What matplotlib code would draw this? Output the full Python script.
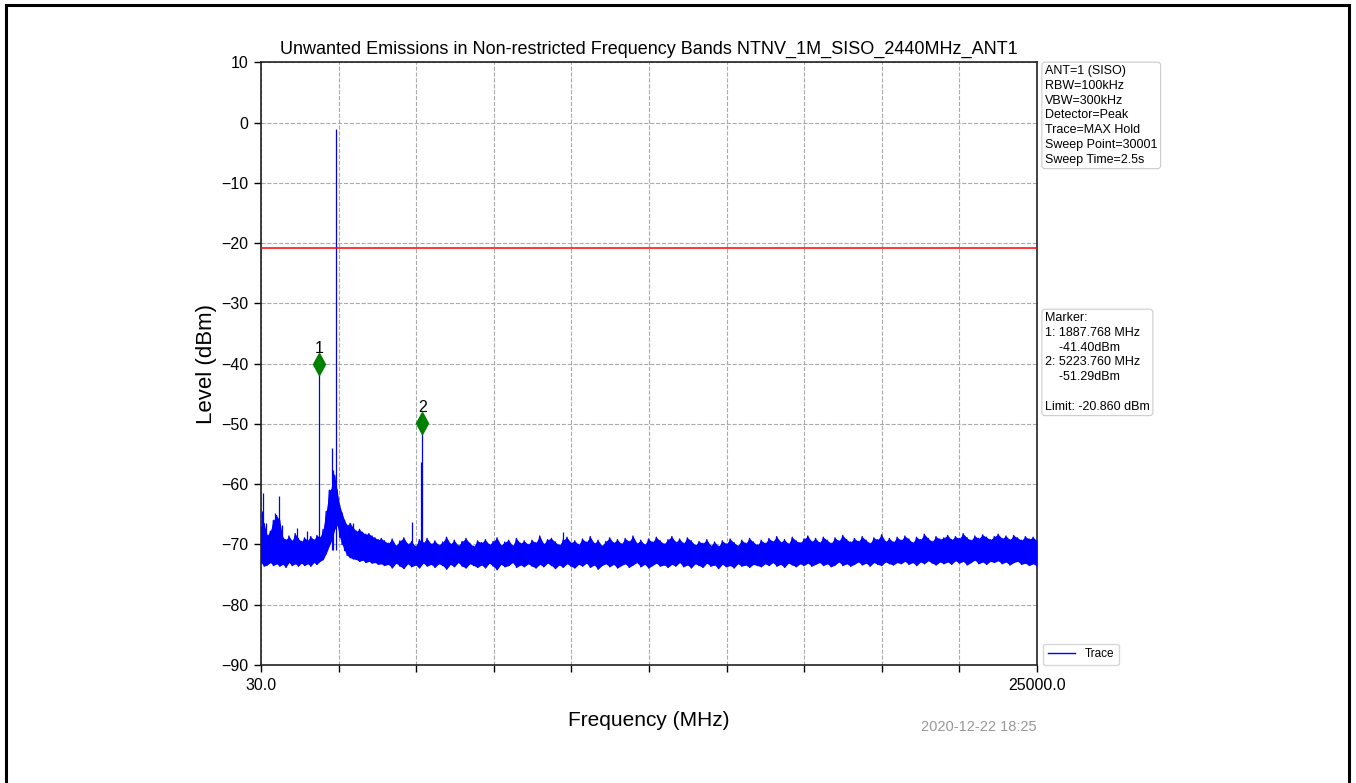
import numpy as np
import matplotlib
matplotlib.use("Agg")
import matplotlib.pyplot as plt
from matplotlib.patches import Rectangle

plt.rcParams['font.family'] = ['Liberation Sans', 'DejaVu Sans']

# trace envelope (MHz, dBm): low edge and high edge of the noise band
near_freq = [30, 130, 230, 330, 430, 530, 630, 730, 830, 930,
             1030, 1130, 1230, 1330, 1430, 1530, 1630, 1730, 1830, 1930,
             2030, 2130, 2230, 2330, 2400, 2480, 2560, 2640, 2720, 2800,
             2900, 3000, 3100, 3200, 3300, 3400, 3500, 3600, 3700, 3800,
             3900, 4000]
near_hi = [-67.0, -66.5, -68.5, -67.8, -66.0, -65.2, -66.0, -68.8, -69.2, -68.6,
           -69.4, -68.2, -69.0, -69.5, -68.9, -69.3, -68.7, -69.2, -68.5, -68.8,
           -67.5, -64.5, -61.0, -60.5, -58.5, -61.0, -63.5, -64.8, -66.0, -66.8,
           -66.5, -67.2, -67.8, -67.5, -68.0, -68.3, -68.2, -68.6, -68.9, -69.2,
           -69.0, -69.4]
near_lo = [-73.0, -73.6, -73.4, -73.0, -73.5, -73.2, -73.6, -73.3, -73.8, -73.0,
           -73.5, -73.2, -73.6, -73.1, -73.5, -73.2, -73.6, -73.0, -73.3, -72.8,
           -72.5, -71.5, -70.2, -69.0, -67.5, -66.8, -68.8, -70.0, -71.0, -71.8,
           -72.2, -72.4, -72.5, -72.8, -72.6, -73.0, -72.8, -73.1, -73.0, -73.3,
           -73.2, -73.5]

# flat part of the floor, 4125 .. 25000 MHz in 125 MHz steps
floor_freq = list(range(4125, 25001, 125))
floor_hi = [-69.8, -69.1, -70.2, -69.4, -68.9, -69.9, -69.5, -70.3, -69.2, -69.7, -69.0, -69.9,
            -69.4, -70.1, -69.6, -68.8, -69.9, -69.3, -70.2, -69.5, -69.0, -69.8, -70.3, -69.4,
            -69.7, -69.2, -70.0, -69.5, -68.9, -70.1, -69.6, -69.3, -70.2, -69.0, -69.8, -69.4,
            -70.0, -69.3, -69.7, -68.6, -69.9, -69.2, -69.0, -69.6, -70.1, -69.3, -68.8, -69.7,
            -69.4, -70.0, -69.1, -69.6, -68.7, -69.8, -69.3, -70.2, -69.5, -68.9, -69.7, -69.2,
            -69.9, -69.0, -69.5, -68.6, -69.8, -69.3, -70.0, -69.1, -69.6, -68.8, -69.4, -69.9,
            -69.2, -68.7, -69.6, -69.1, -69.8, -68.9, -69.4, -70.1, -69.5, -69.8, -69.2, -70.2,
            -69.6, -70.3, -69.4, -69.9, -69.1, -69.7, -70.2, -69.3, -69.8, -69.0, -69.6, -70.1,
            -69.3, -69.8, -69.0, -69.5, -68.7, -69.6, -69.2, -69.9, -68.8, -69.4, -69.7, -69.1,
            -68.6, -69.5, -69.0, -69.7, -68.8, -69.3, -69.8, -68.9, -69.4, -68.5, -69.2, -69.6,
            -69.0, -69.5, -68.7, -69.3, -69.8, -68.9, -69.2, -68.4, -69.5, -69.0, -69.6, -68.8,
            -69.3, -68.6, -69.1, -69.7, -68.8, -69.2, -68.3, -69.0, -69.5, -68.7, -69.1, -68.9,
            -68.5, -69.2, -68.7, -69.0, -68.2, -68.9, -69.3, -68.6, -69.0, -68.4, -68.8, -69.2,
            -68.7, -68.3, -69.0, -68.6, -69.2, -68.5, -68.9, -69.3, -68.7, -69.1, -68.8, -69.4]
floor_lo = [-73.3, -73.9, -73.1, -73.6, -74.0, -73.2, -73.7, -73.4, -73.9, -73.1, -73.6, -73.3,
            -73.8, -73.2, -73.5, -74.1, -73.3, -73.7, -73.0, -73.6, -73.9, -73.2, -73.5, -73.8,
            -73.4, -73.9, -73.1, -73.6, -74.2, -73.3, -73.7, -73.5, -73.0, -73.8, -73.4, -73.7,
            -73.2, -73.6, -73.9, -73.3, -73.7, -73.1, -73.5, -74.0, -73.4, -73.8, -73.2, -73.6,
            -73.9, -73.3, -73.6, -73.1, -73.8, -73.4, -74.1, -73.5, -73.2, -73.7, -73.3, -73.9,
            -73.5, -73.2, -73.8, -73.4, -73.0, -73.7, -73.3, -73.9, -73.5, -73.1, -73.6, -73.4,
            -73.8, -73.3, -73.6, -73.0, -73.7, -73.4, -73.9, -73.2, -73.5, -73.8, -73.1, -73.6,
            -73.4, -74.0, -73.3, -73.7, -73.5, -73.9, -73.2, -73.6, -73.4, -73.8, -73.3, -73.5,
            -73.7, -73.2, -73.5, -73.0, -73.6, -73.3, -73.8, -73.1, -73.4, -73.7, -73.2, -73.5,
            -73.1, -73.6, -73.3, -73.0, -73.5, -73.2, -73.7, -73.4, -72.9, -73.5, -73.2, -73.6,
            -73.3, -72.9, -73.4, -73.1, -73.6, -73.0, -73.3, -73.5, -72.9, -73.2, -73.4, -73.0,
            -73.2, -72.8, -73.3, -73.0, -73.5, -72.9, -73.2, -72.7, -73.1, -73.4, -72.9, -73.2,
            -72.9, -73.3, -72.7, -73.1, -72.8, -73.4, -73.0, -72.6, -73.2, -72.9, -73.3, -72.8,
            -73.0, -72.7, -73.2, -72.9, -73.4, -73.0, -72.8, -73.3, -73.1, -73.5, -73.2, -73.6]

# narrow spikes standing out of the noise floor
spike_freq = [60, 104, 190, 480, 609, 690, 1179, 1500, 1888, 2305, 2357, 2440,
              2900, 3000, 4880, 5190, 5224, 9750]
spike_level = [-64.5, -61.5, -66.5, -64.8, -62.0, -66.8, -67.3, -67.8, -41.4, -54.0, -57.7, -1.0,
               -66.4, -66.5, -66.2, -56.3, -51.3, -67.9]

marker_freq = [1887.768, 5223.760]
marker_level = [-41.40, -51.29]
limit_level = -20.860

x_ticks = [30.0, 2527.0, 5024.0, 7521.0, 10018.0, 12515.0, 15012.0, 17509.0, 20006.0, 22503.0, 25000.0]
x_tick_labels = ['30.0', '', '', '', '', '', '', '', '', '', '25000.0']
y_ticks = [-90, -80, -70, -60, -50, -40, -30, -20, -10, 0, 10]

title = 'Unwanted Emissions in Non-restricted Frequency Bands NTNV_1M_SISO_2440MHz_ANT1'
info_text = 'ANT=1 (SISO)\nRBW=100kHz\nVBW=300kHz\nDetector=Peak\nTrace=MAX Hold\nSweep Point=30001\nSweep Time=2.5s'
marker_text = ('Marker:\n1: 1887.768 MHz\n    -41.40dBm\n2: 5223.760 MHz\n    -51.29dBm\n\n'
               'Limit: -20.860 dBm')
stamp = '2020-12-22 18:25'

W, H = 1356, 783
fig = plt.figure(figsize=(W / 100, H / 100), dpi=100)
ax = fig.add_axes([261 / W, 1 - 665 / H, 776 / W, 602.7 / H])

trace_freq = near_freq + floor_freq
trace_hi = near_hi + floor_hi
trace_lo = near_lo + floor_lo

# noise band + trace
x = np.repeat(trace_freq, 2)
y = np.column_stack([trace_hi, trace_lo]).ravel()
ax.fill_between(trace_freq, trace_lo, trace_hi, color='#0000ff', lw=0, zorder=3)
ax.plot(x, y, color='#0000ff', lw=1.0, label='Trace', zorder=3)
ax.vlines(spike_freq, -71, spike_level, color='#0000ff', lw=0.9, zorder=3)

ax.axhline(limit_level, color='#ff0000', lw=1.1, zorder=4)

for i, (f, lv) in enumerate(zip(marker_freq, marker_level)):
    ax.plot(f, lv + 1.4, marker='d', color='#008000', ms=11, zorder=5)
    ax.annotate(str(i + 1), (f, lv + 1.4), xytext=(0, 8), textcoords='offset points',
                ha='center', va='baseline', fontsize=11.5, zorder=6)

ax.set_xlim(30, 25000)
ax.set_ylim(-90, 10)
ax.set_xticks(x_ticks)
ax.set_xticklabels(x_tick_labels)
ax.set_yticks(y_ticks)
ax.tick_params(labelsize=11.5, length=5, width=1, direction='out', pad=4)
ax.grid(True, color='#aaaaaa', ls='--', lw=0.8, zorder=0)
ax.set_axisbelow(True)
for s in ax.spines.values():
    s.set_linewidth(1.2)
    s.set_color('#222222')

ax.set_title(title, fontsize=13, pad=6)
ax.set_xlabel('Frequency (MHz)', fontsize=15, labelpad=13)
ax.set_ylabel('Level (dBm)', fontsize=16, labelpad=3)

box = dict(boxstyle='round,pad=0.25', fc='white', ec='#cccccc', lw=0.8)
ax.text(1 + 8 / 776, 1 - 3 / 602.7, info_text, transform=ax.transAxes, fontsize=9,
        va='top', ha='left', linespacing=1.3, bbox=box)
ax.text(1 + 8 / 776, 1 - 250 / 602.7, marker_text, transform=ax.transAxes, fontsize=9,
        va='top', ha='left', linespacing=1.3, bbox=box)

ax.legend(loc='lower left', bbox_to_anchor=(1 + 6 / 776, 0), borderaxespad=0,
          fontsize=8.5, handlelength=2.3)

fig.text(1037 / W, 1 - 727 / H, stamp, ha='right', va='center', fontsize=10.5, color='#999999')

# outer frame of the screenshot
fig.patches.append(Rectangle((6.2 / W, -0.05), (1348.5 - 6.2) / W, 1.05 - 4.5 / H,
                             transform=fig.transFigure, fill=False, ec='black', lw=2.2))

fig.savefig('out.png', dpi=100)
